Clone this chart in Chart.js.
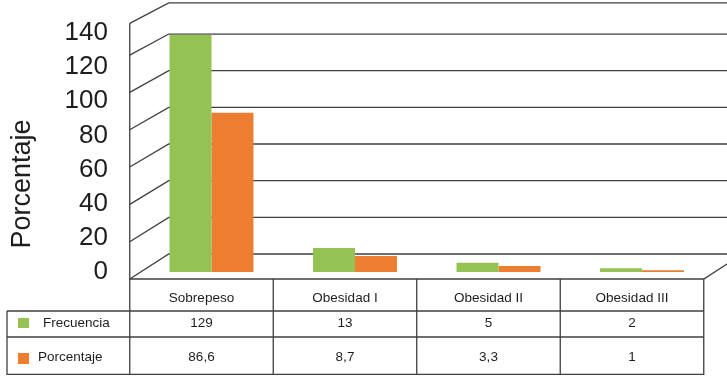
<!DOCTYPE html>
<html>
<head>
<meta charset="utf-8">
<script src="https://cdn.jsdelivr.net/npm/chart.js@4.4.1/dist/chart.umd.min.js"></script>
<style>
  html, body { margin: 0; padding: 0; background: #ffffff; }
  #wrap { width: 727px; height: 376px; position: relative; }
</style>
</head>
<body>
<div id="wrap"><canvas id="c"></canvas></div>
<script>
// Categories and the two series shown in the bars and in the data table
const categories = ['Sobrepeso', 'Obesidad I', 'Obesidad II', 'Obesidad III'];
const frecuencia = [129, 13, 5, 2];
const porcentaje = [86.6, 8.7, 3.3, 1];
const seriesNames = ['Frecuencia', 'Porcentaje'];
const axisTitle = 'Porcentaje';
// Value axis ticks (0 to 140, every 20) and the wall gridlines
const tickMin = 0, tickMax = 140, tickStep = 20;
const gridValues = [0, 20, 40, 60, 80, 100, 120];
const wallTopValue = 137;

const FONT = '"Liberation Sans", Arial, sans-serif';
const GREEN = '#94C353';
const ORANGE = '#ED7D31';
const LINE = '#3f3f3f';
const TEXT = '#1e1e1e';
const DEPTH_X = 39;          // horizontal depth of the box
const FRONT_DY = 7;          // front edge below the bar baseline
const BACK_DY = -18;         // back wall baseline above the bar baseline
const ROW_Y = [279, 311, 337, 375]; // table row edges
const TABLE_LEFT = 7;

const fmt = v => String(v).replace('.', ',');

function geometry(chart) {
  const a = chart.chartArea;
  const x = chart.scales.x, yb = chart.scales.yb;
  const rise = v => yb.getPixelForValue(v) - yb.getPixelForValue(0);
  const w = x.getPixelForValue(1) - x.getPixelForValue(0);
  const edges = [];
  for (let i = 0; i <= categories.length; i++) {
    edges.push(x.getPixelForValue(0) - w / 2 - 10 + i * w);
  }
  return {
    a, edges,
    fx: edges[0],
    front: v => a.bottom + FRONT_DY + rise(v) * 1.015,
    back: v => a.bottom + BACK_DY + rise(v) * 0.997
  };
}

const boxFrame = {
  id: 'boxFrame',
  beforeDatasetsDraw(chart) {
    const { ctx } = chart;
    const g = geometry(chart);
    const bx = g.fx + DEPTH_X;
    ctx.save();
    ctx.strokeStyle = LINE;
    ctx.lineWidth = 1.3;
    // side wall diagonals + back wall gridlines
    [...gridValues, wallTopValue].forEach(v => {
      ctx.beginPath();
      ctx.moveTo(g.fx, g.front(v));
      ctx.lineTo(bx, g.back(v));
      ctx.lineTo(chart.width + 2, g.back(v));
      ctx.stroke();
    });
    ctx.restore();
  },
  afterDraw(chart) {
    const { ctx } = chart;
    const g = geometry(chart);
    const right = g.edges[g.edges.length - 1];
    ctx.save();
    ctx.strokeStyle = LINE;
    ctx.lineWidth = 1.3;
    // floor front edge and right depth edge
    ctx.beginPath();
    ctx.moveTo(g.fx, g.front(0));
    ctx.lineTo(right, g.front(0));
    ctx.lineTo(right + DEPTH_X, g.back(0));
    ctx.stroke();
    // left front edge of the side wall continuing down as the table line
    ctx.beginPath();
    ctx.moveTo(g.fx, g.front(wallTopValue));
    ctx.lineTo(g.fx, ROW_Y[3]);
    ctx.stroke();
    // table column lines
    g.edges.slice(1).forEach(xe => {
      ctx.beginPath(); ctx.moveTo(xe, ROW_Y[0]); ctx.lineTo(xe, ROW_Y[3]); ctx.stroke();
    });
    // table row lines
    [ROW_Y[1], ROW_Y[2], ROW_Y[3] - 0.7].forEach(yy => {
      ctx.beginPath(); ctx.moveTo(TABLE_LEFT, yy); ctx.lineTo(right, yy); ctx.stroke();
    });
    ctx.beginPath(); ctx.moveTo(TABLE_LEFT, ROW_Y[1]); ctx.lineTo(TABLE_LEFT, ROW_Y[3]); ctx.stroke();

    // table text
    ctx.fillStyle = TEXT;
    ctx.font = '13.5px ' + FONT;
    ctx.textBaseline = 'middle';
    ctx.textAlign = 'center';
    const rowMid = [298, 323, 357];
    categories.forEach((c, i) => {
      const cx = (g.edges[i] + g.edges[i + 1]) / 2;
      ctx.fillText(c, cx, rowMid[0]);
      ctx.fillText(fmt(frecuencia[i]), cx, rowMid[1]);
      ctx.fillText(fmt(porcentaje[i]), cx, rowMid[2]);
    });
    ctx.textAlign = 'left';
    ctx.fillText(seriesNames[0], 43, rowMid[1]);
    ctx.fillText(seriesNames[1], 38, rowMid[2]);
    ctx.fillStyle = GREEN;
    ctx.fillRect(18, 318, 11, 10);
    ctx.fillStyle = ORANGE;
    ctx.fillRect(18, 353, 11, 11);

    // value axis title
    ctx.fillStyle = TEXT;
    ctx.font = '27px ' + FONT;
    ctx.translate(23, 184);
    ctx.rotate(-Math.PI / 2);
    ctx.textAlign = 'center';
    ctx.textBaseline = 'middle';
    ctx.fillText(axisTitle, 0, 0);
    ctx.restore();
  }
};

new Chart(document.getElementById('c'), {
  type: 'bar',
  data: {
    labels: categories,
    datasets: [
      { label: seriesNames[0], data: frecuencia, backgroundColor: GREEN, yAxisID: 'yb' },
      { label: seriesNames[1], data: porcentaje, backgroundColor: ORANGE, yAxisID: 'yb' }
    ]
  },
  options: {
    responsive: true,
    maintainAspectRatio: false,
    animation: false,
    events: [],
    layout: { padding: { left: 0, top: 33, right: 13.25, bottom: 104 } },
    datasets: { bar: { categoryPercentage: 0.585, barPercentage: 1.0, borderWidth: 0 } },
    plugins: { legend: { display: false }, tooltip: { enabled: false } },
    scales: {
      x: { display: false },
      y: {
        position: 'left',
        min: tickMin, max: tickMax,
        grid: { display: false, drawTicks: false },
        border: { display: false },
        ticks: { stepSize: tickStep, autoSkip: false, padding: 31.75, color: TEXT, font: { family: FONT, size: 26 } },
        afterFit: s => { s.width = 139.75; s.paddingTop = 0; s.paddingBottom = 0; }
      },
      yb: { display: false, min: 0, max: 130 }
    }
  },
  plugins: [boxFrame]
});
</script>
</body>
</html>
